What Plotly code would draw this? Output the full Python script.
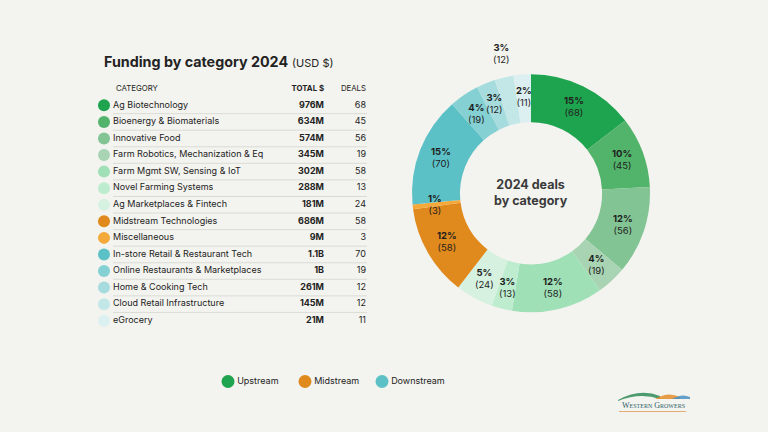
import math
import plotly.graph_objects as go

# ---------------- data ----------------
categories = [
    "Ag Biotechnology", "Bioenergy & Biomaterials", "Innovative Food",
    "Farm Robotics, Mechanization & Eq", "Farm Mgmt SW, Sensing & IoT",
    "Novel Farming Systems", "Ag Marketplaces & Fintech",
    "Midstream Technologies", "Miscellaneous",
    "In-store Retail & Restaurant Tech", "Online Restaurants & Marketplaces",
    "Home & Cooking Tech", "Cloud Retail Infrastructure", "eGrocery",
]
totals = ["976M", "634M", "574M", "345M", "302M", "288M", "181M",
          "686M", "9M", "1.1B", "1B", "261M", "145M", "21M"]
deals = [68, 45, 56, 19, 58, 13, 24, 58, 3, 70, 19, 12, 12, 11]
colors = ["#1ea34e", "#52b36b", "#82c493", "#a9d4b3", "#9fe0b6", "#bdeccf",
          "#d6f1e0", "#e08a1d", "#f6a93b", "#5cc1c6", "#84d0d3", "#a6dcde",
          "#c3e7e7", "#dcf0f1"]
label_pos = ["inside"] * 12 + ["outside", "inside"]

groups = ["Upstream", "Midstream", "Downstream"]
group_colors = ["#1ea34e", "#e08a1d", "#5cc1c6"]

header = ["CATEGORY", "<b>TOTAL $</b>", "DEALS"]

BG = "#f3f3ef"
TXT = "#232323"
FONT = "Inter"
W, H = 768, 432

fig = go.Figure()
rows = list(range(len(categories)))

# ---------------- table (axis x / y) ----------------
X_DOT, X_NAME, X_TOT, X_DEAL = 104, 113, 324, 366
FS = 9

fig.add_trace(go.Scatter(
    x=[X_DOT] * len(rows), y=rows, mode="markers",
    marker=dict(size=12, color=colors, line=dict(width=0)),
    hoverinfo="skip", showlegend=False, xaxis="x", yaxis="y"))
fig.add_trace(go.Scatter(
    x=[X_NAME] * len(rows), y=rows, mode="text", text=categories,
    textposition="middle right", textfont=dict(size=FS, color=TXT, family=FONT),
    hoverinfo="skip", showlegend=False, xaxis="x", yaxis="y"))
fig.add_trace(go.Scatter(
    x=[X_TOT] * len(rows), y=rows, mode="text",
    text=["<b>%s</b>" % t for t in totals],
    textposition="middle left", textfont=dict(size=FS, color=TXT, family=FONT),
    hoverinfo="skip", showlegend=False, xaxis="x", yaxis="y"))
fig.add_trace(go.Scatter(
    x=[X_DEAL] * len(rows), y=rows, mode="text", text=[str(d) for d in deals],
    textposition="middle left", textfont=dict(size=FS, color=TXT, family=FONT),
    hoverinfo="skip", showlegend=False, xaxis="x", yaxis="y"))
fig.add_trace(go.Scatter(
    x=[116, X_TOT, X_DEAL], y=[-1, -1, -1], mode="text", text=header,
    textposition=["middle right", "middle left", "middle left"],
    textfont=dict(size=7.8, color=TXT, family=FONT),
    hoverinfo="skip", showlegend=False, xaxis="x", yaxis="y"))

shapes = []
for i in rows[:-1]:
    shapes.append(dict(type="line", xref="x", yref="y", x0=113, x1=367,
                       y0=i + 0.5, y1=i + 0.5,
                       line=dict(color="#dcdcd6", width=1)))

# ---------------- donut ----------------
CX, CY, R_OUT, HOLE = 531, 193.3, 119, 0.597
fig.add_trace(go.Pie(
    labels=categories, values=deals, sort=False, direction="clockwise",
    rotation=0, hole=HOLE, textinfo="none",
    marker=dict(colors=colors, line=dict(width=0)),
    domain=dict(x=[(CX - R_OUT) / W, (CX + R_OUT) / W],
                y=[1 - (CY + R_OUT) / H, 1 - (CY - R_OUT) / H]),
    showlegend=False, hoverinfo="label+value+percent"))

# slice labels placed at each slice's mid angle (derived from the data)
annotations = []
total = sum(deals)
cum = 0
R_IN_LABEL = R_OUT * (1 + HOLE) / 2 + 2
R_OUT_LABEL = R_OUT + 11
for v, pos in zip(deals, label_pos):
    mid = (cum + v / 2) / total * 2 * math.pi
    cum += v
    r = R_IN_LABEL if pos == "inside" else R_OUT_LABEL
    px = CX + r * math.sin(mid)
    py = CY - r * math.cos(mid)
    pct = round(v / total * 100)
    annotations.append(dict(
        text="<b>%d%%</b><br>(%d)" % (pct, v),
        x=px / W, y=1 - py / H, xref="paper", yref="paper",
        xanchor="center", yanchor="middle" if pos == "inside" else "bottom",
        showarrow=False, align="center",
        font=dict(size=9.5, color="#1e1e1e", family=FONT)))

# ---------------- legend (axis x2 / y2) ----------------
fig.add_trace(go.Scatter(
    x=list(range(len(groups))), y=[0] * len(groups), mode="markers+text",
    text=groups, textposition="middle right", cliponaxis=False,
    marker=dict(size=13, color=group_colors),
    textfont=dict(size=9, color=TXT, family=FONT),
    hoverinfo="skip", showlegend=False, xaxis="x2", yaxis="y2"))

axis_off = dict(visible=False, showgrid=False, zeroline=False, fixedrange=True)

annotations += [
    dict(text="<b>Funding by category 2024</b> <span style='font-size:11px'>(USD $)</span>",
         x=102 / W, y=1 - 61 / H, xref="paper", yref="paper",
         xanchor="left", yanchor="middle", showarrow=False,
         font=dict(size=14.3, color=TXT, family=FONT)),
    dict(text="<b>2024 deals<br>by category</b>",
         x=CX / W, y=1 - 192.5 / H, xref="paper", yref="paper",
         xanchor="center", yanchor="middle", showarrow=False, align="center",
         font=dict(size=12.5, color="#3a3a3a", family=FONT)),
    dict(text="W<span style='font-size:6px'>ESTERN</span> G<span style='font-size:6px'>ROWERS</span>",
         x=653 / W, y=1 - 405 / H, xref="paper", yref="paper",
         xanchor="center", yanchor="middle", showarrow=False,
         font=dict(size=8, color="#2f5f6a", family="Liberation Serif")),
]

# simple logo artwork (paper coordinates)
def P(x, y):
    return "%.4f,%.4f" % (x / W, 1 - y / H)

logo = [
    ("M" + P(618, 400) + "Q" + P(640, 388) + " " + P(660, 396) + "L" + P(660, 399) + "Q" + P(640, 392) + " " + P(618, 401) + "Z", "#2e8b57"),
    ("M" + P(655, 399) + "Q" + P(668, 391) + " " + P(680, 397) + "L" + P(680, 399) + "Z", "#e48d2a"),
    ("M" + P(672, 399) + "Q" + P(682, 393) + " " + P(690, 397) + "L" + P(690, 399) + "Z", "#4a90c2"),
    ("M" + P(619, 411) + "L" + P(686, 411) + "L" + P(686, 412) + "L" + P(619, 412) + "Z", "#e0a060"),
]
for path, col in logo:
    shapes.append(dict(type="path", xref="paper", yref="paper", path=path,
                       fillcolor=col, line=dict(width=0), opacity=0.85))

fig.update_layout(
    width=W, height=H, autosize=False,
    margin=dict(l=0, r=0, t=0, b=0),
    paper_bgcolor=BG, plot_bgcolor="rgba(0,0,0,0)",
    font=dict(family=FONT, color=TXT),
    xaxis=dict(axis_off, domain=[0, 1], range=[0, W]),
    yaxis=dict(axis_off, domain=[1 - 329 / H, 1 - 80.5 / H], range=[13.5, -1.5]),
    xaxis2=dict(axis_off, domain=[189.5 / W, 420.5 / W], range=[-0.5, 2.5]),
    yaxis2=dict(axis_off, domain=[1 - 391 / H, 1 - 372 / H], range=[-1, 1]),
    shapes=shapes,
    annotations=annotations,
)

fig.write_html("out.html")
